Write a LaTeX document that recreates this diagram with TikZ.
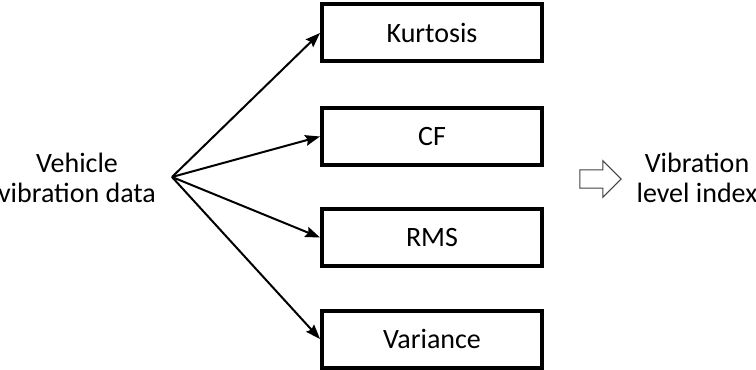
\documentclass[tikz,border=0pt]{standalone}
\usepackage{fontspec}
\setmainfont{Carlito}
\usepackage{tikz}
\usetikzlibrary{arrows.meta,positioning,shapes.arrows}

\begin{document}
\begin{tikzpicture}[
    x=0.75pt, y=-0.75pt,
    every node/.style={font=\fontsize{21}{22.5}\selectfont},
    feature/.style={rectangle, draw, line width=3pt, minimum width=165pt, minimum height=42.75pt, inner sep=0pt},
    label/.style={align=center},
    arrow/.style={-{Stealth[length=11pt, width=8pt, inset=1.5pt]}, line width=1.5pt},
    bigarrow/.style={single arrow, draw=black!75, line width=0.8pt, inner sep=6.4pt, text width=0pt,
        single arrow head extend=7pt, minimum height=31pt}
]
\useasboundingbox (0,0) rectangle (756,370);

% Input
\node[label] (data) at (77,178) {Vehicle\\vibration data};
\coordinate (fork) at (172,177);

% Features
\node[feature] (kurt) at (432,33) {Kurtosis};
\node[feature] (cf) at (432,136.5) {CF};
\node[feature] (rms) at (432,237.5) {RMS};
\node[feature] (var) at (432,339) {Variance};

% Arrows
\draw[arrow] (fork) -- (kurt.west);
\draw[arrow] (fork) -- (cf.west);
\draw[arrow] (fork) -- (rms.west);
\draw[arrow] (fork) -- (var.west);

% Output
\node[bigarrow] (to) at (596,179) {};
\node[label] (index) at (697,178) {Vibration\\level index};

\end{tikzpicture}
\end{document}
